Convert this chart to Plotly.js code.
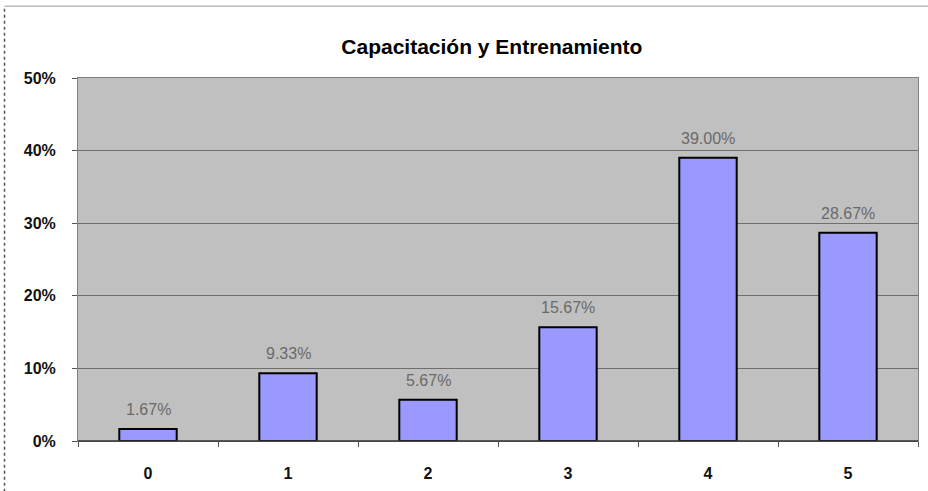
<!DOCTYPE html>
<html>
<head>
<meta charset="utf-8">
<script src="https://cdn.plot.ly/plotly-3.0.1.min.js"></script>
<style>html,body{margin:0;padding:0;background:#fff;}#chart{width:928px;height:491px;}</style>
</head>
<body>
<div id="chart"></div>
<script>
const categories = ["0", "1", "2", "3", "4", "5"];
const values = [0.0167, 0.0933, 0.0567, 0.1567, 0.39, 0.2867];
const valueLabels = ["1.67%", "9.33%", "5.67%", "15.67%", "39.00%", "28.67%"];
const yTickVals = [0, 0.1, 0.2, 0.3, 0.4, 0.5];
const yTickText = ["0%", "10%", "20%", "30%", "40%", "50%"];
const chartTitle = "Capacitación y Entrenamiento";

const trace = {
  type: "bar",
  x: categories,
  y: values,
  marker: {color: "#9999ff", line: {color: "#000000", width: 2}},
  hoverinfo: "none"
};

const labelAnnotations = categories.map((c, i) => ({
  x: c, y: values[i], xref: "x", yref: "y",
  text: valueLabels[i], showarrow: false,
  yanchor: "bottom", yshift: 9,
  font: {family: "Liberation Sans, Arial, sans-serif", size: 16, color: "#6a6a6a"}
}));

const layout = {
  width: 928,
  height: 491,
  margin: {l: 78, r: 10, t: 78, b: 50},
  paper_bgcolor: "#ffffff",
  plot_bgcolor: "#c0c0c0",
  bargap: 0.59,
  showlegend: false,
  font: {family: "Liberation Sans, Arial, sans-serif", color: "#000000"},
  title: {
    text: chartTitle,
    font: {size: 21, weight: "bold", color: "#000000"},
    x: 0.53, xanchor: "center", y: 0.906, yanchor: "middle"
  },
  xaxis: {
    type: "category",
    showgrid: false,
    ticks: "outside",
    tickson: "boundaries",
    ticklen: 5,
    tickcolor: "#555555",
    ticklabelstandoff: 18,
    tickfont: {size: 16, weight: "bold", color: "#111111"},
    showline: true,
    linecolor: "#808080",
    linewidth: 1,
    mirror: true
  },
  yaxis: {
    range: [0, 0.5],
    tickvals: yTickVals,
    ticktext: yTickText,
    showgrid: true,
    gridcolor: "#6e6e6e",
    gridwidth: 1,
    zeroline: false,
    ticks: "outside",
    ticklen: 5,
    tickcolor: "#555555",
    ticklabelstandoff: 13,
    tickfont: {size: 16, weight: "bold", color: "#111111"},
    showline: true,
    linecolor: "#808080",
    linewidth: 1,
    mirror: true
  },
  annotations: labelAnnotations,
  shapes: [
    {type: "line", xref: "paper", yref: "paper", x0: 0, x1: 1, y0: 0, y1: 0, line: {color: "#333333", width: 1.5}},
    {type: "line", xref: "paper", yref: "paper", x0: -0.0875, x1: -0.0875, y0: -0.14, y1: 1.198, line: {color: "#555555", width: 1.5, dash: "dot"}},
    {type: "line", xref: "paper", yref: "paper", x0: -0.0875, x1: 1.012, y0: 1.198, y1: 1.198, line: {color: "#bbbbbb", width: 1.5}}
  ]
};

Plotly.newPlot("chart", [trace], layout, {staticPlot: true, displayModeBar: false});
</script>
</body>
</html>
